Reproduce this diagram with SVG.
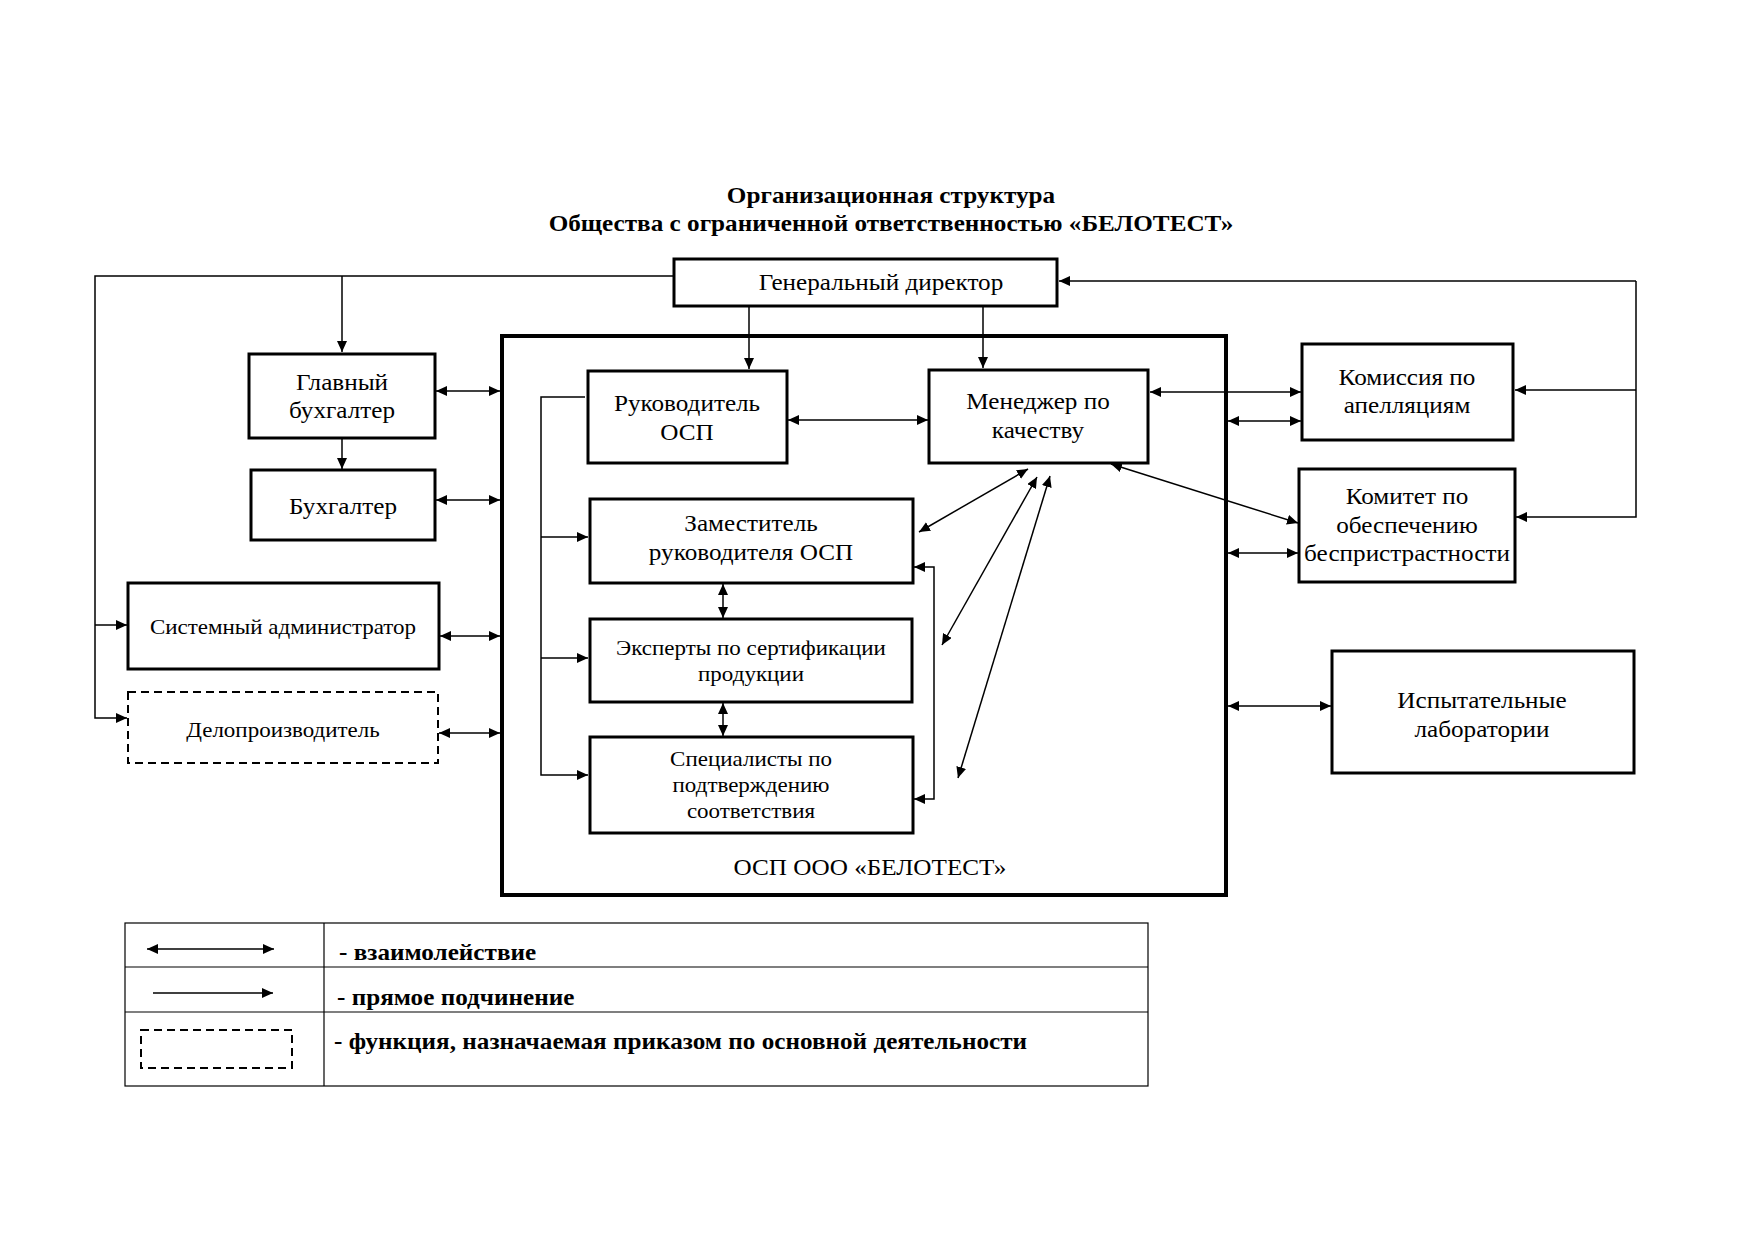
<svg xmlns="http://www.w3.org/2000/svg" width="1755" height="1241" viewBox="0 0 1755 1241">
<style>
.box{fill:#fff;stroke:#000;stroke-width:3}
.dash{fill:#fff;stroke:#000;stroke-width:2;stroke-dasharray:8 5}
.osp{fill:none;stroke:#000;stroke-width:4}
.t{font-family:"Liberation Serif","Times New Roman",serif;font-size:23px;fill:#000;text-anchor:middle}
.s{font-size:21px}
.title{font-family:"Liberation Serif","Times New Roman",serif;font-size:23px;font-weight:bold;fill:#000;text-anchor:middle}
.lg{font-family:"Liberation Serif","Times New Roman",serif;font-size:23px;font-weight:bold;fill:#000}
.c{fill:none;stroke:#000;stroke-width:1.5}
.a{marker-end:url(#ah)}
.b{marker-start:url(#ah);marker-end:url(#ah)}
.tbl{fill:none;stroke:#000;stroke-width:1.2}
</style>
<defs>
<marker id="ah" markerUnits="userSpaceOnUse" markerWidth="12" markerHeight="10" refX="11" refY="5" orient="auto-start-reverse">
<path d="M0,0 L11,5 L0,10 z" fill="#000"/>
</marker>
</defs>
<rect width="1755" height="1241" fill="#fff"/>

<g id="title">
<text class="title" transform="translate(891,203) scale(1.095,1)">Организационная структура</text>
<text class="title" transform="translate(891,231) scale(1.095,1)">Общества с ограниченной ответственностью «БЕЛОТЕСТ»</text>
</g>

<g id="osp">
<rect class="osp" x="502" y="336" width="724" height="559"/>
<text class="t" transform="translate(870,875) scale(1.095,1)">ОСП ООО «БЕЛОТЕСТ»</text>
</g>

<g id="gen-dir">
<rect class="box" x="674" y="259" width="383" height="47"/>
<text class="t" transform="translate(881,290) scale(1.095,1)">Генеральный директор</text>
</g>
<g id="glav-buh">
<rect class="box" x="249" y="354" width="186" height="84"/>
<text class="t" transform="translate(342,390) scale(1.095,1)">Главный</text>
<text class="t" transform="translate(342,418) scale(1.095,1)">бухгалтер</text>
</g>
<g id="buh">
<rect class="box" x="251" y="470" width="184" height="70"/>
<text class="t" transform="translate(343,514) scale(1.095,1)">Бухгалтер</text>
</g>
<g id="sysadmin">
<rect class="box" x="128" y="583" width="311" height="86"/>
<text class="t s" transform="translate(283,634) scale(1.095,1)">Системный администратор</text>
</g>
<g id="delo">
<rect class="dash" x="128" y="692" width="310" height="71"/>
<text class="t s" transform="translate(283,737) scale(1.095,1)">Делопроизводитель</text>
</g>
<g id="ruk-osp">
<rect class="box" x="588" y="371" width="199" height="92"/>
<text class="t" transform="translate(687,411) scale(1.095,1)">Руководитель</text>
<text class="t" transform="translate(687,440) scale(1.095,1)">ОСП</text>
</g>
<g id="manager">
<rect class="box" x="929" y="370" width="219" height="93"/>
<text class="t" transform="translate(1038,409) scale(1.095,1)">Менеджер по</text>
<text class="t" transform="translate(1038,438) scale(1.095,1)">качеству</text>
</g>
<g id="zam">
<rect class="box" x="590" y="499" width="323" height="84"/>
<text class="t" transform="translate(751,531) scale(1.095,1)">Заместитель</text>
<text class="t" transform="translate(751,560) scale(1.095,1)">руководителя ОСП</text>
</g>
<g id="experts">
<rect class="box" x="590" y="619" width="322" height="83"/>
<text class="t s" transform="translate(751,655) scale(1.095,1)">Эксперты по сертификации</text>
<text class="t s" transform="translate(751,681) scale(1.095,1)">продукции</text>
</g>
<g id="spec">
<rect class="box" x="590" y="737" width="323" height="96"/>
<text class="t s" transform="translate(751,766) scale(1.095,1)">Специалисты по</text>
<text class="t s" transform="translate(751,792) scale(1.095,1)">подтверждению</text>
<text class="t s" transform="translate(751,818) scale(1.095,1)">соответствия</text>
</g>
<g id="komissiya">
<rect class="box" x="1302" y="344" width="211" height="96"/>
<text class="t" transform="translate(1407,385) scale(1.095,1)">Комиссия по</text>
<text class="t" transform="translate(1407,413) scale(1.095,1)">апелляциям</text>
</g>
<g id="komitet">
<rect class="box" x="1299" y="469" width="216" height="113"/>
<text class="t" transform="translate(1407,504) scale(1.095,1)">Комитет по</text>
<text class="t" transform="translate(1407,533) scale(1.095,1)">обеспечению</text>
<text class="t" transform="translate(1407,561) scale(1.095,1)">беспристрастности</text>
</g>
<g id="labs">
<rect class="box" x="1332" y="651" width="302" height="122"/>
<text class="t" transform="translate(1482,708) scale(1.095,1)">Испытательные</text>
<text class="t" transform="translate(1482,737) scale(1.095,1)">лаборатории</text>
</g>

<g id="connectors">
<path class="c a" d="M674,276 H95 V718 H127"/>
<path class="c a" d="M95,625 H127"/>
<path class="c a" d="M342,276 V352"/>
<path class="c a" d="M342,438 V469"/>
<path class="c a" d="M749,306 V369"/>
<path class="c a" d="M983,306 V368"/>
<path class="c b" d="M436,391 H500"/>
<path class="c b" d="M436,500 H500"/>
<path class="c b" d="M440,636 H500"/>
<path class="c b" d="M439,733 H500"/>
<path class="c a" d="M585,397 H541 V775 H588"/>
<path class="c a" d="M541,537 H588"/>
<path class="c a" d="M541,658 H588"/>
<path class="c b" d="M788,420 H928"/>
<path class="c b" d="M723,584 V618"/>
<path class="c b" d="M723,703 V736"/>
<path class="c b" d="M914,567 H934 V799 H914"/>
<path class="c b" d="M1028,469 L919,532"/>
<path class="c b" d="M1037,477 L942,645"/>
<path class="c b" d="M1050,476 L958,778"/>
<path class="c b" d="M1111,464 L1298,523"/>
<path class="c b" d="M1150,392 H1301"/>
<path class="c b" d="M1228,421 H1301"/>
<path class="c b" d="M1228,553 H1298"/>
<path class="c b" d="M1228,706 H1331"/>
<path class="c a" d="M1636,281 H1059"/>
<path class="c a" d="M1636,281 V517 H1516"/>
<path class="c a" d="M1636,390 H1515"/>
</g>

<g id="legend">
<rect class="tbl" x="125" y="923" width="1023" height="163"/>
<line class="tbl" x1="324" y1="923" x2="324" y2="1086"/>
<line class="tbl" x1="125" y1="967" x2="1148" y2="967"/>
<line class="tbl" x1="125" y1="1012" x2="1148" y2="1012"/>
<path class="c b" d="M147,949 H274"/>
<path class="c a" d="M153,993 H273"/>
<rect class="dash" x="141" y="1030" width="151" height="38"/>
<text class="lg" transform="translate(339,960) scale(1.095,1)">- взаимолействие</text>
<text class="lg" transform="translate(337,1005) scale(1.095,1)">- прямое подчинение</text>
<text class="lg" transform="translate(334,1049) scale(1.095,1)">- функция, назначаемая приказом по основной деятельности</text>
</g>
</svg>
